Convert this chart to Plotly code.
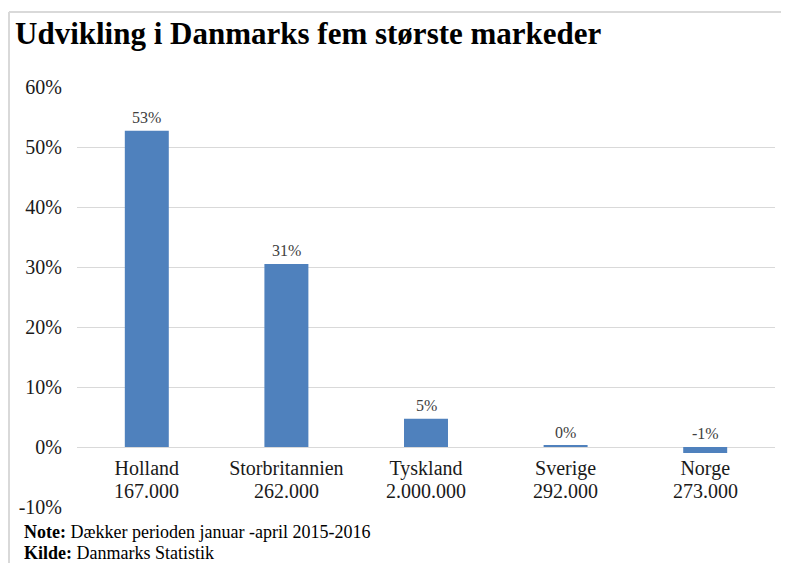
import plotly.graph_objects as go

categories = ["Holland", "Storbritannien", "Tyskland", "Sverige", "Norge"]
volumes = ["167.000", "262.000", "2.000.000", "292.000", "273.000"]
growth = [52.7, 30.5, 4.7, 0.2, -1.0]
labels = ["53%", "31%", "5%", "0%", "-1%"]
yticks = [-10, 0, 10, 20, 30, 40, 50, 60]
ytick_text = ["-10%", "0%", "10%", "20%", "30%", "40%", "50%", "60%"]

# page body has an 8px margin; figure coordinates are page coordinates minus 8
OFF = 8
W, H = 789 - OFF, 563 - OFF
L, R, T, B = 77 - OFF, 14, 87 - OFF, 56
PW, PH = W - L - R, H - T - B
SERIF = "Liberation Serif, Georgia, serif"


def px_x(page_x):
    return (page_x - OFF - L) / PW


def px_y(page_y):
    return 1 - (page_y - OFF - T) / PH


fig = go.Figure()
fig.add_trace(go.Bar(
    x=categories, y=growth,
    marker=dict(color="#4F81BD", line=dict(width=0)),
    hoverinfo="skip",
))

for c, v, t in zip(categories, growth, labels):
    fig.add_annotation(x=c, y=max(v, 0), text=t, showarrow=False,
                       yanchor="bottom", yshift=3,
                       font=dict(family=SERIF, size=16, color="#404040"))

# second line of the category labels (market volume)
for c, vol in zip(categories, volumes):
    fig.add_annotation(x=c, y=0, text=vol, showarrow=False,
                       yanchor="middle", yshift=-44,
                       font=dict(family=SERIF, size=20, color="#1a1a1a"))

zero_pos = (0 - yticks[0]) / (yticks[-1] - yticks[0])

fig.update_layout(
    width=W, height=H,
    margin=dict(l=L, r=R, t=T, b=B),
    paper_bgcolor="white", plot_bgcolor="white",
    bargap=0.685,
    showlegend=False,
    font=dict(family=SERIF, color="#1a1a1a"),
    xaxis=dict(
        tickmode="array", tickvals=categories, ticktext=categories,
        tickfont=dict(family=SERIF, size=20, color="#1a1a1a"),
        anchor="free", position=zero_pos,
        showline=False, showgrid=False, ticks="", ticklen=0,
        ticklabelstandoff=7,
    ),
    yaxis=dict(
        range=[yticks[0], yticks[-1]],
        tickmode="array", tickvals=yticks, ticktext=ytick_text,
        tickfont=dict(family=SERIF, size=20, color="#1a1a1a"),
        showgrid=True, gridcolor="#D9D9D9", gridwidth=1,
        zeroline=True, zerolinecolor="#D9D9D9", zerolinewidth=1,
        ticks="", ticklabelstandoff=14,
    ),
)

fig.add_annotation(xref="paper", yref="paper",
                   x=px_x(13), y=px_y(33),
                   xanchor="left", yanchor="middle", showarrow=False,
                   text="<b>Udvikling i Danmarks fem største markeder</b>",
                   font=dict(family=SERIF, size=31, color="#000000"))
fig.add_annotation(xref="paper", yref="paper",
                   x=px_x(22), y=px_y(532),
                   xanchor="left", yanchor="middle", showarrow=False,
                   text="<b>Note:</b> Dækker perioden januar -april 2015-2016",
                   font=dict(family=SERIF, size=18, color="#000000"))
fig.add_annotation(xref="paper", yref="paper",
                   x=px_x(22), y=px_y(553),
                   xanchor="left", yanchor="middle", showarrow=False,
                   text="<b>Kilde:</b> Danmarks Statistik",
                   font=dict(family=SERIF, size=18, color="#000000"))

# frame lines (top and left) of the graphic
bx = px_x(9)
by_top = px_y(12)
fig.add_shape(type="line", xref="paper", yref="paper",
              x0=bx, x1=px_x(789), y0=by_top, y1=by_top,
              line=dict(color="#D9D9D9", width=2))
fig.add_shape(type="line", xref="paper", yref="paper",
              x0=bx, x1=bx, y0=by_top, y1=px_y(563),
              line=dict(color="#D9D9D9", width=2))

fig.write_html("out.html")
